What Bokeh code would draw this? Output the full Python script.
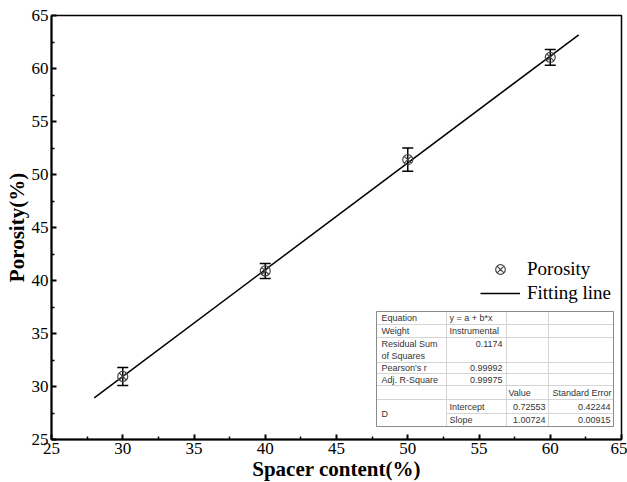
from bokeh.plotting import figure
from bokeh.models import (ColumnDataSource, Range1d, FixedTicker, Whisker, TeeHead,
                          Legend, LegendItem)
from bokeh.core.properties import value
from bokeh.embed import file_html
from bokeh.resources import INLINE

# ---------------- data ----------------
spacer = [30, 40, 50, 60]
porosity = [30.95, 40.9, 51.4, 61.05]
porosity_err = [0.85, 0.7, 1.1, 0.75]

fit_x = [28, 62]
fit_y = [28.93, 63.18]

x_ticks = [25, 30, 35, 40, 45, 50, 55, 60, 65]
y_ticks = [25, 30, 35, 40, 45, 50, 55, 60, 65]
minor_ticks = [27.5, 32.5, 37.5, 42.5, 47.5, 52.5, 57.5, 62.5]

table_col1 = ["Equation", "Weight", "Residual Sum\nof Squares", "Pearson's r", "Adj. R-Square", "", "D"]
table_col2_text = ["y = a + b*x", "Instrumental"]
table_col2_nums = ["0.1174", "0.99992", "0.99975"]
table_param_names = ["Intercept", "Slope"]
table_values = ["0.72553", "1.00724"]
table_errors = ["0.42244", "0.00915"]
table_headers = ["Value", "Standard Error"]

# ---------------- figure ----------------
W, H = 627, 482
FL, FR, FT, FB = 51, 621, 15, 439

p = figure(frame_width=FR - FL, frame_height=FB - FT,
           output_backend="svg", toolbar_location=None,
           x_range=Range1d(25, 65), y_range=Range1d(25, 65),
           min_border_left=FL, min_border_right=W - FR,
           min_border_top=FT, min_border_bottom=H - FB)
p.grid.visible = False
p.outline_line_color = "black"
p.outline_line_width = 1.5
p.background_fill_color = "white"
p.border_fill_color = "white"

for ax, ticks in ((p.xaxis[0], x_ticks), (p.yaxis[0], y_ticks)):
    ax.ticker = FixedTicker(ticks=ticks, minor_ticks=minor_ticks)
    ax.axis_line_width = 2
    ax.axis_line_color = "black"
    ax.major_tick_in = 5
    ax.major_tick_out = 0
    ax.minor_tick_in = 3
    ax.minor_tick_out = 0
    ax.major_tick_line_width = 2
    ax.minor_tick_line_width = 1.5
    ax.major_label_text_font = "Liberation Serif"
    ax.major_label_text_font_size = "17px"
    ax.major_label_text_color = "black"
    ax.axis_label_text_font = "Liberation Serif"
    ax.axis_label_text_font_style = "bold"
    ax.axis_label_text_font_size = "21px"
    ax.axis_label_text_color = "black"

p.xaxis.axis_label = "Spacer content(%)"
p.yaxis.axis_label = "Porosity(%)"
p.xaxis.major_label_standoff = 3
p.xaxis.axis_label_standoff = 0
p.yaxis.major_label_standoff = 3
p.yaxis.axis_label_standoff = 0

# fit line
fit_r = p.line(fit_x, fit_y, line_color="black", line_width=1.5)

# error bars
upper = [v + e for v, e in zip(porosity, porosity_err)]
lower = [v - e for v, e in zip(porosity, porosity_err)]
src = ColumnDataSource(dict(x=spacer, y=porosity, upper=upper, lower=lower))
wh = Whisker(base="x", upper="upper", lower="lower", source=src,
             line_color="black", line_width=1.5,
             upper_head=TeeHead(size=11, line_width=1.5, line_color="black"),
             lower_head=TeeHead(size=11, line_width=1.5, line_color="black"))
p.add_layout(wh)

pts = p.scatter("x", "y", source=src, marker="circle_x", size=10,
                line_color="#444444", fill_color=None, line_width=1.2)

legend = Legend(items=[LegendItem(label="Porosity", renderers=[pts]),
                       LegendItem(label="Fitting line", renderers=[fit_r])],
                location=(429, 134),
                label_text_font="Liberation Serif", label_text_font_size="19px",
                label_text_color="black",
                glyph_width=40, glyph_height=24, label_height=24,
                label_standoff=7, spacing=0, padding=0, margin=0,
                border_line_color=None, background_fill_alpha=0)
p.add_layout(legend)

# ---------------- table (layout in pixel positions converted to data) ----------------
def dx(px):
    return 25 + (px - FL) * 40.0 / (FR - FL)

def dy(py):
    return 65 - (py - FT) * 40.0 / (FB - FT)

cols = [376, 446, 506, 548, 613]
rows = [311, 324, 337, 362, 373, 385, 399, 413, 426]

p.quad(left=[dx(cols[0])], right=[dx(cols[-1])], top=[dy(rows[0])], bottom=[dy(rows[-1])],
       fill_color="white", line_color=None)

hx0, hx1, hy = [], [], []
for r in rows[1:-1]:
    start = cols[1] if r == 413 else cols[0]
    hx0.append(dx(start)); hx1.append(dx(cols[-1])); hy.append(dy(r))
p.segment(x0=hx0, y0=hy, x1=hx1, y1=hy, line_color="#d4d4d4", line_width=1)
vx = [dx(c) for c in cols[1:-1]]
p.segment(x0=vx, y0=[dy(rows[0])] * len(vx), x1=vx, y1=[dy(rows[-1])] * len(vx),
          line_color="#d4d4d4", line_width=1)
p.quad(left=[dx(cols[0])], right=[dx(cols[-1])], top=[dy(rows[0])], bottom=[dy(rows[-1])],
       fill_color=None, line_color="#8a8a8a", line_width=1)

tfont = value("Liberation Sans")
tsize = "9px"
tcol = "#333333"

def mid(i):
    return (rows[i] + rows[i + 1]) / 2.0

c1_x, c1_y, c1_t = [], [], []
for i, lab in zip(range(6), table_col1[:6]):
    if not lab:
        continue
    if "\n" in lab:
        a, b = lab.split("\n")
        c1_x += [dx(381), dx(381)]
        c1_y += [dy(343), dy(355)]
        c1_t += [a, b]
    else:
        c1_x.append(dx(381)); c1_y.append(dy(mid(i))); c1_t.append(lab)
c1_x.append(dx(381)); c1_y.append(dy(rows[7])); c1_t.append(table_col1[6])
p.text(x=c1_x, y=c1_y, text=c1_t, text_font=tfont, text_font_size=tsize,
       text_color=tcol, text_baseline="middle", text_align="left")

c2_x = [dx(449)] * 4
c2_y = [dy(mid(0)), dy(mid(1)), dy(mid(6)), dy(mid(7))]
c2_t = table_col2_text + table_param_names
p.text(x=c2_x, y=c2_y, text=c2_t, text_font=tfont, text_font_size=tsize,
       text_color=tcol, text_baseline="middle", text_align="left")

p.text(x=[dx(502)] * 3, y=[dy(343), dy(mid(3)), dy(mid(4))], text=table_col2_nums,
       text_font=tfont, text_font_size=tsize, text_color=tcol,
       text_baseline="middle", text_align="right")

p.text(x=[dx(508), dx(552)], y=[dy(mid(5))] * 2, text=table_headers,
       text_font=tfont, text_font_size=tsize, text_color=tcol,
       text_baseline="middle", text_align="left")

p.text(x=[dx(545)] * 2 + [dx(610)] * 2,
       y=[dy(mid(6)), dy(mid(7))] * 2,
       text=table_values + table_errors,
       text_font=tfont, text_font_size=tsize, text_color=tcol,
       text_baseline="middle", text_align="right")

open("out.html", "w").write(file_html(p, INLINE))
